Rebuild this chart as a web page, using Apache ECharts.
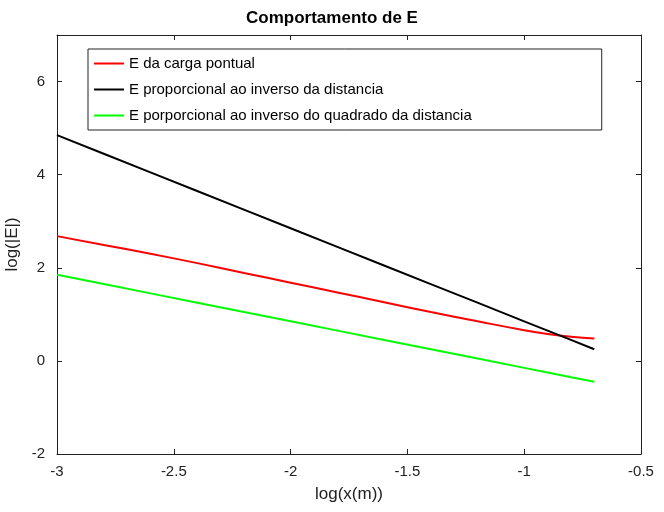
<!DOCTYPE html>
<html>
<head>
<meta charset="utf-8">
<script src="https://cdn.jsdelivr.net/npm/echarts@6/dist/echarts.min.js"></script>
<style>html,body{margin:0;padding:0;background:#fff}#chart{width:664px;height:512px}</style>
</head>
<body>
<div id="chart"></div>
<script>
var xs = [-3, -2.8, -2.6, -2.4, -2.2, -2, -1.8, -1.6, -1.4, -1.2, -1, -0.9, -0.8, -0.7];
var pontual = [2.68, 2.49, 2.30, 2.10, 1.89, 1.68, 1.47, 1.26, 1.05, 0.85, 0.66, 0.58, 0.52, 0.48];
var inverso = [4.85, 4.45, 4.05, 3.65, 3.25, 2.85, 2.45, 2.05, 1.65, 1.25, 0.85, 0.65, 0.45, 0.25];
var quadrado = [1.85, 1.65, 1.45, 1.25, 1.05, 0.85, 0.65, 0.45, 0.25, 0.05, -0.15, -0.25, -0.35, -0.45];
var names = ['E da carga pontual', 'E proporcional ao inverso da distancia', 'E porporcional ao inverso do quadrado da distancia'];

function pts(ys) { return xs.map(function (x, i) { return [x, ys[i]]; }); }

var dom = document.getElementById('chart');
var myChart = echarts.init(dom);
var font = 'Liberation Sans, Arial, sans-serif';
var tickStyle = { show: true, inside: true, length: 5, lineStyle: { color: '#222' } };
var lineStyle = { show: true, onZero: false, lineStyle: { color: '#222', width: 1 } };

var option = {
    animation: false,
    title: { text: 'Comportamento de E', left: 'center', top: 5,
        textStyle: { fontFamily: font, fontSize: 17, fontWeight: 'bold', color: '#000' } },
    grid: { left: 57, right: 23, top: 35, bottom: 58, containLabel: false, outerBoundsMode: 'none' },
    legend: {
        orient: 'vertical', left: 88, top: 49,
        padding: [7, 130, 7, 6], itemGap: 11, itemWidth: 30, itemHeight: 2,
        borderColor: '#222', borderWidth: 1, backgroundColor: '#fff',
        icon: 'rect',
        textStyle: { fontFamily: font, fontSize: 15, color: '#000' },
        data: names
    },
    xAxis: [{
        type: 'value', min: -3, max: -0.5, interval: 0.5,
        name: 'log(x(m))', nameLocation: 'middle', nameGap: 32,
        nameTextStyle: { fontFamily: font, fontSize: 17, color: '#222' },
        axisLabel: { fontFamily: font, fontSize: 15, color: '#222', margin: 10 },
        axisLine: lineStyle, axisTick: tickStyle, splitLine: { show: false }
    }, {
        type: 'value', position: 'top', min: -3, max: -0.5, interval: 0.5,
        axisLabel: { show: false }, axisLine: lineStyle, axisTick: tickStyle, splitLine: { show: false }
    }],
    yAxis: [{
        type: 'value', min: -2, max: 7, interval: 2,
        name: 'log(|E|)', nameLocation: 'middle', nameGap: 30,
        nameTextStyle: { fontFamily: font, fontSize: 17, color: '#222' },
        axisLabel: { fontFamily: font, fontSize: 15, color: '#222', margin: 12,
            showMaxLabel: false },
        axisLine: lineStyle, axisTick: tickStyle, splitLine: { show: false }
    }, {
        type: 'value', position: 'right', min: -2, max: 7, interval: 2,
        axisLabel: { show: false }, axisLine: lineStyle, axisTick: tickStyle, splitLine: { show: false }
    }],
    series: [
        { name: names[0], type: 'line', data: pts(pontual), smooth: true, showSymbol: false, color: '#ff0000', lineStyle: { width: 2 } },
        { name: names[1], type: 'line', data: pts(inverso), showSymbol: false, color: '#000000', lineStyle: { width: 2 } },
        { name: names[2], type: 'line', data: pts(quadrado), showSymbol: false, color: '#00ff00', lineStyle: { width: 2 } }
    ]
};

if (option && typeof option === 'object') {
    myChart.setOption(option);
}
</script>
</body>
</html>
